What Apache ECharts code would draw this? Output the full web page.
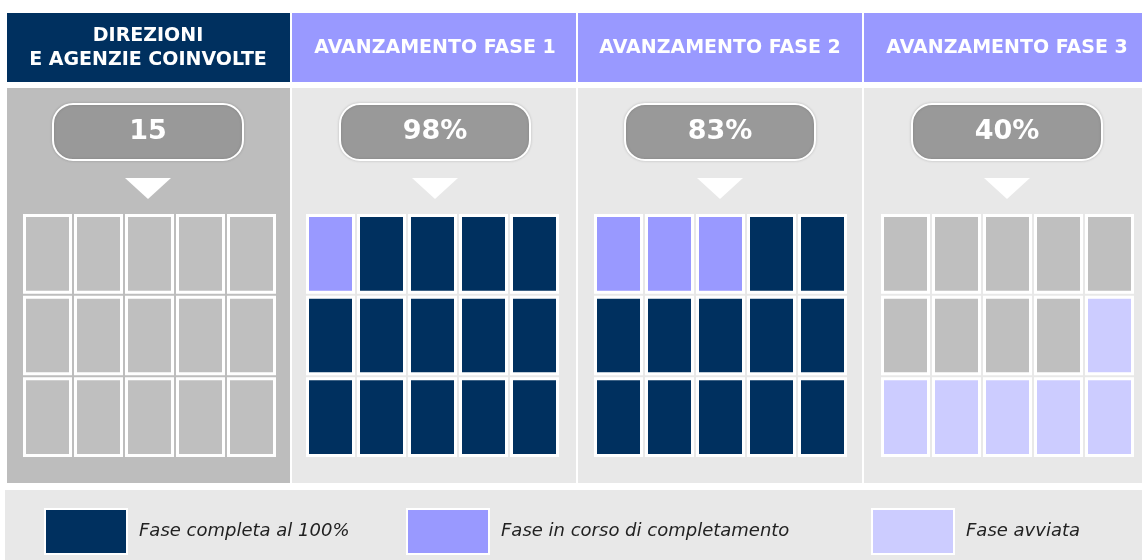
<html lang="it">
<head>
<meta charset="utf-8">
<title>Avanzamento fasi</title>
<script src="https://cdn.jsdelivr.net/npm/echarts@6/dist/echarts.min.js"></script>
<style>
  body { margin: 0; background: #fff; }
  #chart { width: 1142px; height: 560px; }
</style>
</head>
<body>
<div id="chart"></div>
<script>
// dati
var panelTitles = ['DIREZIONI\nE AGENZIE COINVOLTE', 'AVANZAMENTO FASE 1', 'AVANZAMENTO FASE 2', 'AVANZAMENTO FASE 3'];
var panelValues = ['15', '98%', '83%', '40%'];
var stateNames = ['Non avviata', 'Fase completa al 100%', 'Fase in corso di completamento', 'Fase avviata'];
var columns = ['1', '2', '3', '4', '5'];
var rows = ['1', '2', '3'];
// stato di ogni casella, per righe (0 = grigio, 1 = completa, 2 = in corso, 3 = avviata)
var cellsDirezioni = [0, 0, 0, 0, 0, 0, 0, 0, 0, 0, 0, 0, 0, 0, 0];
var cellsFase1 = [2, 1, 1, 1, 1, 1, 1, 1, 1, 1, 1, 1, 1, 1, 1];
var cellsFase2 = [2, 2, 2, 1, 1, 1, 1, 1, 1, 1, 1, 1, 1, 1, 1];
var cellsFase3 = [0, 0, 0, 0, 0, 0, 0, 0, 0, 3, 3, 3, 3, 3, 3];
var panelCells = [cellsDirezioni, cellsFase1, cellsFase2, cellsFase3];

var stateColors = ['#bfbfbf', '#00305f', '#9999ff', '#ccccff'];

// impaginazione
var panelLeft = [7, 292, 578, 864];
var panelRight = [290, 576, 862, 1142];
var centers = [148, 435, 720, 1007];
var gridLeft = [22, 305, 593, 880];
var font = '"DejaVu Sans", Verdana, sans-serif';

var chart = echarts.init(document.getElementById('chart'));

var grids = [], xAxes = [], yAxes = [], series = [], graphics = [];

// sfondo legenda
graphics.push({ type: 'rect', shape: { x: 5, y: 490, width: 1137, height: 70 }, style: { fill: '#e8e8e8' }, z: 0 });

for (var p = 0; p < 4; p++) {
  var w = panelRight[p] - panelLeft[p];
  // intestazione
  graphics.push({
    type: 'rect', z: 0,
    shape: { x: panelLeft[p], y: 13, width: w, height: 69 },
    style: { fill: p === 0 ? '#00305f' : '#9999ff' }
  });
  graphics.push({
    type: 'text', z: 1,
    style: {
      text: panelTitles[p], x: centers[p], y: 48,
      fill: '#fff', font: 'bold 19px ' + font, lineHeight: 24,
      align: 'center', verticalAlign: 'middle', textAlign: 'center', textVerticalAlign: 'middle'
    }
  });
  // pannello
  graphics.push({
    type: 'rect', z: 0,
    shape: { x: panelLeft[p], y: 88, width: w, height: 395 },
    style: { fill: p === 0 ? '#bdbdbd' : '#e8e8e8' }
  });
  // valore
  graphics.push({
    type: 'rect', z: 1,
    shape: { x: centers[p] - 95, y: 104, width: 190, height: 56, r: 20 },
    style: { fill: '#999999', stroke: '#fff', lineWidth: 2, shadowBlur: 3, shadowColor: 'rgba(0,0,0,0.15)' }
  });
  graphics.push({
    type: 'text', z: 2,
    style: {
      text: panelValues[p], x: centers[p], y: 132,
      fill: '#fff', font: 'bold 27px ' + font,
      align: 'center', verticalAlign: 'middle', textAlign: 'center', textVerticalAlign: 'middle'
    }
  });
  graphics.push({
    type: 'polygon', z: 1,
    shape: { points: [[centers[p] - 23, 178], [centers[p] + 23, 178], [centers[p], 199]] },
    style: { fill: '#fff' }
  });

  grids.push({ left: gridLeft[p], top: 213, width: 255, height: 245 });
  xAxes.push({ type: 'category', gridIndex: p, data: columns, show: false });
  yAxes.push({ type: 'category', gridIndex: p, data: rows, inverse: true, show: false });

  for (var s = 0; s < 4; s++) {
    var data = [];
    panelCells[p].forEach(function (st, i) {
      if (st === s) data.push([i % 5, Math.floor(i / 5)]);
    });
    series.push({
      type: 'custom',
      name: stateNames[s],
      xAxisIndex: p,
      yAxisIndex: p,
      itemStyle: { color: stateColors[s] },
      data: data,
      renderItem: function (params, api) {
        var c = api.coord([api.value(0), api.value(1)]);
        var sz = api.size([1, 1]);
        return {
          type: 'rect',
          shape: { x: c[0] - sz[0] / 2 + 2.5, y: c[1] - sz[1] / 2 + 2.5, width: sz[0] - 5, height: sz[1] - 5 },
          style: { fill: api.visual('color'), stroke: '#fff', lineWidth: 3 }
        };
      }
    });
  }
}

var legendLeft = [44, 406, 871];
var legends = legendLeft.map(function (l, i) {
  return {
    left: l, top: 508, padding: 0,
    data: [stateNames[i + 1]],
    icon: 'rect', itemWidth: 82, itemHeight: 45,
    selectedMode: false,
    itemStyle: { borderColor: '#fff', borderWidth: 2 },
    textStyle: { fontFamily: font, fontStyle: 'italic', fontSize: 18, color: '#222', padding: [0, 0, 0, 7] }
  };
});

chart.setOption({
  animation: false,
  graphic: graphics,
  grid: grids,
  xAxis: xAxes,
  yAxis: yAxes,
  legend: legends,
  series: series
});
</script>
</body>
</html>
